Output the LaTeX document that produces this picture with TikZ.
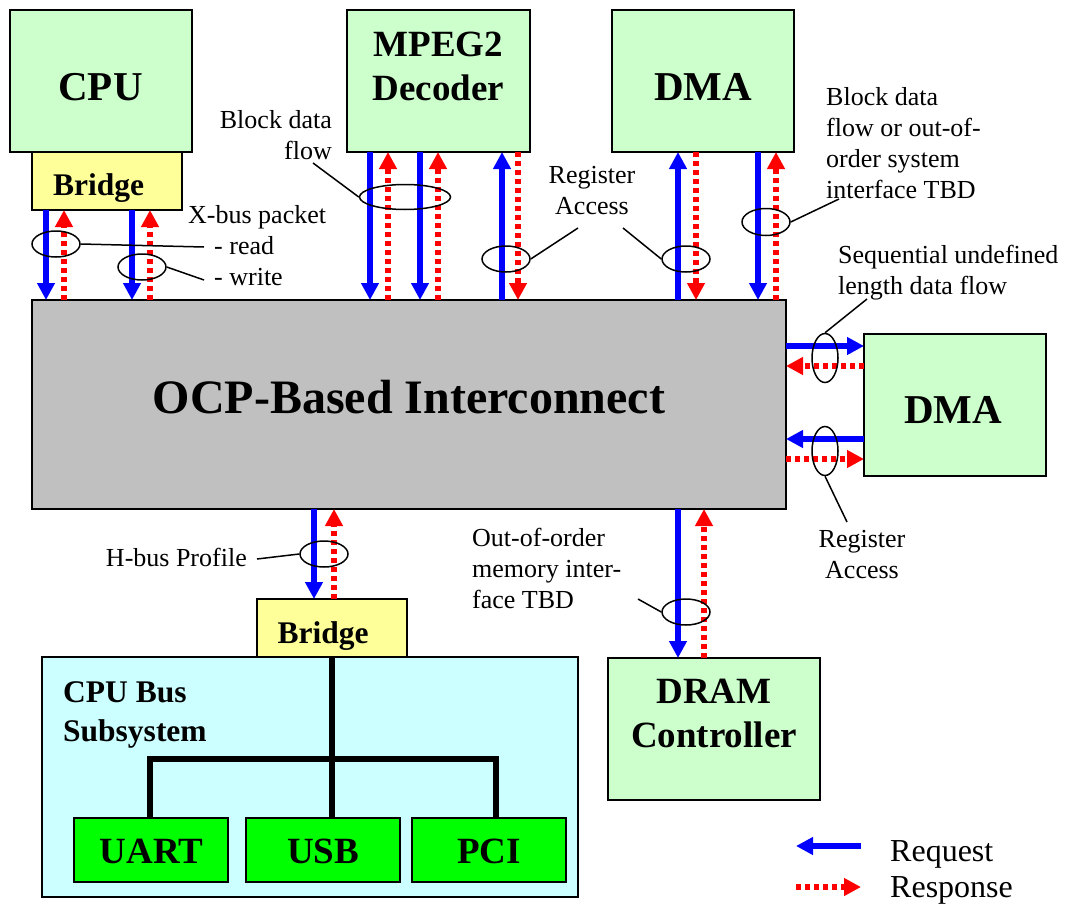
\documentclass[tikz,border=0pt]{standalone}
\usepackage{fontspec}
\setmainfont{Liberation Serif}
\usetikzlibrary{arrows.meta,shapes.geometric}
\definecolor{reqblue}{HTML}{0000FF}
\definecolor{respred}{HTML}{FF0000}
\definecolor{lgreen}{HTML}{CCFFCC}
\definecolor{ylw}{HTML}{FFFF99}
\definecolor{lcyan}{HTML}{CCFFFF}
\definecolor{grn}{HTML}{00FF00}
\definecolor{ocpgray}{HTML}{C0C0C0}
\begin{document}
\begin{tikzpicture}[x=1pt,y=-1pt,
  box/.style={draw=black, line width=2pt, inner sep=0pt, outer sep=0pt},
  req/.style={draw=reqblue, line width=5.5pt, -{Triangle[width=17pt,length=17pt]}},
  resp/.style={draw=respred, line width=5.5pt, dash pattern=on 5pt off 4pt, -{Triangle[width=17pt,length=17pt]}},
  ell/.style={ellipse, draw=black, line width=1.5pt, inner sep=0pt, minimum width=48pt, minimum height=26pt},
  vell/.style={ellipse, draw=black, line width=1.5pt, inner sep=0pt, minimum width=26pt, minimum height=49pt},
  lead/.style={draw=black, line width=1.5pt},
  tree/.style={draw=black, line width=5.5pt},
  txt/.style={font=\fontsize{26}{31}\selectfont, inner sep=0pt},
  lgd/.style={font=\fontsize{32}{36}\selectfont, inner sep=0pt, anchor=base west},
  bbig/.style={font=\fontsize{41}{45}\selectfont\bfseries, inner sep=0pt, anchor=base},
  bmid/.style={font=\fontsize{37}{44}\selectfont\bfseries, inner sep=0pt, anchor=base, align=center},
  bsml/.style={font=\fontsize{31.5}{39}\selectfont\bfseries, inner sep=0pt, anchor=base}
]
\useasboundingbox (0,0) rectangle (1067,907);

% ---------------- boxes ----------------
\node[box, fill=lgreen, minimum width=182pt, minimum height=142pt] (cpu) at (101,81) {};
\node[box, fill=ylw, minimum width=150pt, minimum height=58pt] (bridgeA) at (107,181) {};
\node[box, fill=lgreen, minimum width=183pt, minimum height=142pt] (mpeg) at (438.5,81) {};
\node[box, fill=lgreen, minimum width=182pt, minimum height=142pt] (dmaT) at (703,81) {};
\node[box, fill=ocpgray, minimum width=754pt, minimum height=209pt] (ocp) at (409,404.5) {};
\node[box, fill=lgreen, minimum width=182pt, minimum height=142pt] (dmaR) at (955,405) {};
\node[box, fill=lcyan, minimum width=536pt, minimum height=240pt] (cpubus) at (310,777) {};
\node[box, fill=ylw, minimum width=150pt, minimum height=58pt] (bridgeB) at (332,628) {};
\node[box, fill=grn, minimum width=154pt, minimum height=64pt] (uart) at (151,850) {};
\node[box, fill=grn, minimum width=154pt, minimum height=64pt] (usb) at (323,850) {};
\node[box, fill=grn, minimum width=154pt, minimum height=64pt] (pci) at (489,850) {};
\node[box, fill=lgreen, minimum width=212pt, minimum height=142pt] (dram) at (714,729) {};

% ---------------- box texts (multi-line nodes: base = last line) ----------------
\node[bbig] (cpuT) at (100.5,100) {CPU};
\node[bsml] (bridgeAT) at (98.5,195) {Bridge};
\node[bmid] (mpegT) at (438.5,100) {MPEG2\\Decoder};
\node[bbig] (dmaTT) at (703,100) {DMA};
\node[font=\fontsize{48}{52}\selectfont\bfseries, inner sep=0pt, anchor=base] (ocpT) at (409,413) {OCP-Based Interconnect};
\node[bbig] (dmaRT) at (953,423) {DMA};
\node[bsml] (bridgeBT) at (323,643) {Bridge};
\node[bsml, anchor=base west, align=left] (cpubusT) at (63,741) {CPU Bus\\Subsystem};
\node[bmid] (uartT) at (151.5,863) {UART};
\node[bmid] (usbT) at (323,863) {USB};
\node[bmid] (pciT) at (489,863) {PCI};
\node[bmid] (dramT) at (714,747) {DRAM\\Controller};

% ---------------- tree in CPU bus subsystem ----------------
\draw[tree] (bridgeB.south -| 332,0) -- (usb.north -| 332,0);
\draw[tree, line join=miter] (uart.north -| 150,0) -- (150,759) -- (496,759) -- (pci.north -| 496,0);

% ---------------- arrows: CPU bridge ----------------
\draw[req]  (bridgeA.south -| 46,0) -- (ocp.north -| 46,0);
\draw[resp] (ocp.north -| 64,0) -- (bridgeA.south -| 64,0);
\draw[req]  (bridgeA.south -| 132,0) -- (ocp.north -| 132,0);
\draw[resp] (ocp.north -| 150,0) -- (bridgeA.south -| 150,0);

% ---------------- arrows: MPEG2 ----------------
\draw[req]  (mpeg.south -| 370,0) -- (ocp.north -| 370,0);
\draw[resp] (ocp.north -| 388,0) -- (mpeg.south -| 388,0);
\draw[req]  (mpeg.south -| 420,0) -- (ocp.north -| 420,0);
\draw[resp] (ocp.north -| 438,0) -- (mpeg.south -| 438,0);
\draw[req]  (ocp.north -| 502,0) -- (mpeg.south -| 502,0);
\draw[resp] (mpeg.south -| 518,0) -- (ocp.north -| 518,0);

% ---------------- arrows: DMA top ----------------
\draw[req]  (ocp.north -| 678,0) -- (dmaT.south -| 678,0);
\draw[resp] (dmaT.south -| 696,0) -- (ocp.north -| 696,0);
\draw[req]  (dmaT.south -| 758,0) -- (ocp.north -| 758,0);
\draw[resp] (ocp.north -| 776,0) -- (dmaT.south -| 776,0);

% ---------------- arrows: DMA right ----------------
\draw[req]  (ocp.east |- 0,346) -- (dmaR.west |- 0,346);
\draw[resp] (dmaR.west |- 0,366) -- (ocp.east |- 0,366);
\draw[req]  (dmaR.west |- 0,439) -- (ocp.east |- 0,439);
\draw[resp] (ocp.east |- 0,459) -- (dmaR.west |- 0,459);

% ---------------- arrows: bottom ----------------
\draw[req]  (ocp.south -| 314,0) -- (bridgeB.north -| 314,0);
\draw[resp] (bridgeB.north -| 334,0) -- (ocp.south -| 334,0);
\draw[req]  (ocp.south -| 678,0) -- (dram.north -| 678,0);
\draw[resp] (dram.north -| 704,0) -- (ocp.south -| 704,0);

% ---------------- annotation ellipses ----------------
\node[ell] (eRead) at (56,244) {};
\node[ell] (eWrite) at (142,267) {};
\node[ell, minimum width=91pt, minimum height=25pt] (eBlock) at (405,197) {};
\node[ell] (eReg1) at (506,259) {};
\node[ell] (eReg2) at (686,259) {};
\node[ell, minimum height=27pt] (eTR) at (766,222) {};
\node[vell] (eSeq) at (825,358) {};
\node[vell] (eReg3) at (825,451) {};
\node[ell] (eH) at (324,554) {};
\node[ell] (eOO) at (686,612) {};

% ---------------- annotation texts ----------------
\node[txt, anchor=base west] (xbus) at (188,223) {X-bus packet};
\node[txt, anchor=base west] (readT) at (214,254) {- read};
\node[txt, anchor=base west] (writeT) at (214,285) {- write};
\node[txt, anchor=base east, align=right] (blockT) at (332,159) {Block data\\flow};
\node[txt, anchor=base, align=center] (regT1) at (592,214) {Register\\Access};
\node[txt, anchor=base west, align=left] (trT) at (826,198) {Block data\\flow or out-of-\\order system\\interface TBD};
\node[txt, anchor=base west, align=left] (seqT) at (838,294) {Sequential undefined\\length data flow};
\node[txt, anchor=base, align=center] (regT2) at (862,578) {Register\\Access};
\node[txt, anchor=base east] (hbusT) at (247,566) {H-bus Profile};
\node[txt, anchor=base west, align=left] (ooT) at (472,608) {Out-of-order\\memory inter-\\face TBD};

% leader end points
\coordinate (cRead) at (204,247);
\coordinate (cWrite) at (204,280);
\coordinate (cBlock) at (313,163);
\coordinate (cReg1) at (578,228);
\coordinate (cReg2) at (623,228);
\coordinate (cTR) at (839,199);
\coordinate (cSeq) at (867,299);
\coordinate (cReg3) at (847,522);
\coordinate (cH) at (257,559);
\coordinate (cOO) at (638,599);

\draw[lead] (eRead.east) -- (cRead);
\draw[lead] (eWrite.east) -- (cWrite);
\draw[lead] (eBlock.west) -- (cBlock);
\draw[lead] (eReg1.east) -- (cReg1);
\draw[lead] (eReg2.west) -- (cReg2);
\draw[lead] (eTR.east) -- (cTR);
\draw[lead] (eSeq.north) -- (cSeq);
\draw[lead] (eReg3.south) -- (cReg3);
\draw[lead] (eH.west) -- (cH);
\draw[lead] (eOO.west) -- (cOO);

% ---------------- legend ----------------
\coordinate (lgReqA) at (861,846);
\coordinate (lgReqB) at (796,846);
\coordinate (lgRespA) at (796,887);
\coordinate (lgRespB) at (861,887);
\draw[req] (lgReqA) -- (lgReqB);
\draw[resp] (lgRespA) -- (lgRespB);
\node[lgd] (reqT) at (890,861) {Request};
\node[lgd] (respT) at (890,897) {Response};
\end{tikzpicture}
\end{document}
